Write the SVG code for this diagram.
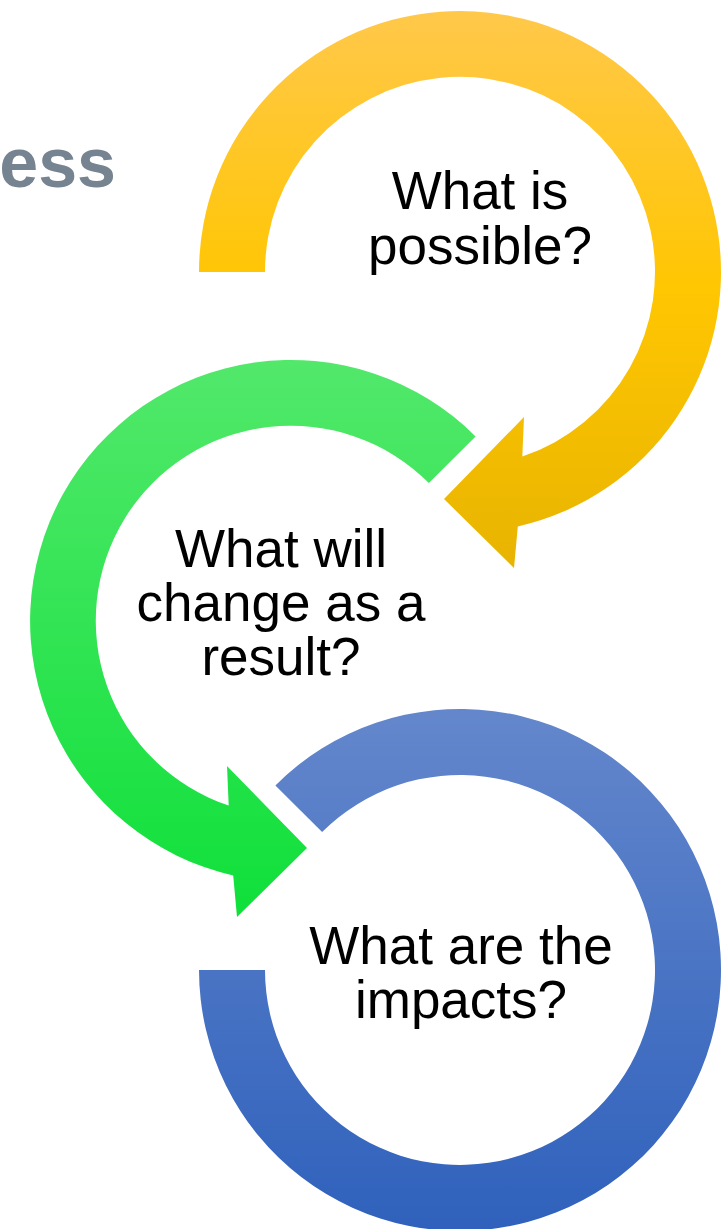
<svg xmlns="http://www.w3.org/2000/svg" width="723" height="1229" viewBox="0 0 723 1229">
  <defs>
    <linearGradient id="gY" x1="0" y1="0" x2="0" y2="1">
      <stop offset="0" stop-color="#FFC84A"/>
      <stop offset="0.5" stop-color="#FFC602"/>
      <stop offset="1" stop-color="#E8B400"/>
    </linearGradient>
    <linearGradient id="gG" x1="0" y1="0" x2="0" y2="1">
      <stop offset="0" stop-color="#52E86B"/>
      <stop offset="1" stop-color="#0FE03A"/>
    </linearGradient>
    <linearGradient id="gB" x1="0" y1="0" x2="0" y2="1">
      <stop offset="0" stop-color="#6487CC"/>
      <stop offset="1" stop-color="#2F61BC"/>
    </linearGradient>
    <style>
      .lbl { font-family: "Liberation Sans", Arial, sans-serif; font-size: 53px; fill: #000; text-anchor: middle; }
      .title { font-family: "Liberation Sans", Arial, sans-serif; font-size: 70px; font-weight: bold; fill: #768390; text-anchor: end; }
    </style>
  </defs>
  <rect width="723" height="1229" fill="#FFFFFF"/>
  <text class="title" x="116" y="187">ess</text>
  <g id="connectors">
    <path id="arrow-yellow" fill="url(#gY)" d="M 199,272 A 261 261 0 1 1 517.8,526.5 L 514,568 L 444,499 L 524,417 L 522.3,456.6 A 195 195 0 1 0 265,272 Z"/>
    <path id="arrow-green" fill="url(#gG)" d="M 475.6,436.4 A 261 261 0 1 0 233.2,875.5 L 237,917 L 307,848 L 227,766 L 228.7,805.6 A 195 195 0 1 1 428.9,483.1 Z"/>
    <path id="arrow-blue" fill="url(#gB)" d="M 275.4,785.4 A 261 261 0 1 1 199,970 L 265,970 A 195 195 0 1 0 322.1,832.1 Z"/>
  </g>
  <g id="node-possible">
    <text class="lbl" x="480" y="209">What is</text>
    <text class="lbl" x="480" y="264">possible?</text>
  </g>
  <g id="node-change">
    <text class="lbl" x="281" y="567">What will</text>
    <text class="lbl" x="281" y="621">change as a</text>
    <text class="lbl" x="281" y="675">result?</text>
  </g>
  <g id="node-impacts">
    <text class="lbl" x="461" y="964">What are the</text>
    <text class="lbl" x="461" y="1018">impacts?</text>
  </g>
</svg>
